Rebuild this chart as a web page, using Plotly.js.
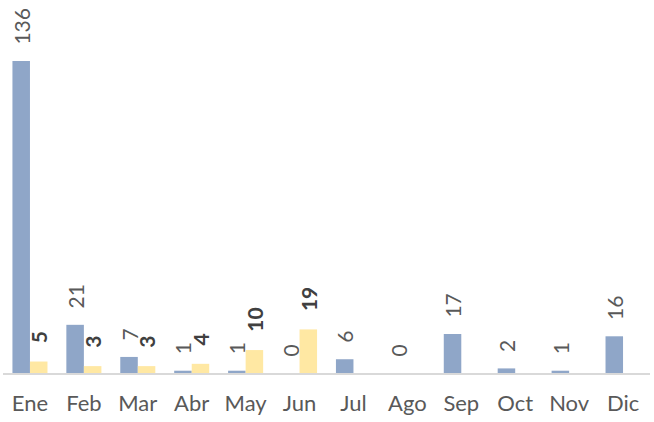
<!DOCTYPE html>
<html><head><meta charset="utf-8">
<script src="https://cdn.plot.ly/plotly-3.0.1.min.js"></script>
<style>html,body{margin:0;padding:0;background:#fff}#chart{width:654px;height:422px}</style>
</head><body><div id="chart"></div>
<script>
const months = ["Ene","Feb","Mar","Abr","May","Jun","Jul","Ago","Sep","Oct","Nov","Dic"];
const seriesA = [136,21,7,1,1,0,6,0,17,2,1,16];
const seriesB = [5,3,3,4,10,19,null,null,null,null,null,null];

const PAD_A = "\u00a0\u00a0\u2009";
const PAD_B = "\u00a0\u00a0\u00a0";
const traces = [
  {type:"bar", x:months, y:seriesA, marker:{color:"#8FA6C8"},
   text:seriesA.map(v=>v===null?"":PAD_A+v), textposition:"outside", textangle:-90,
   constraintext:"none",
   textfont:{family:"Lato", size:21, color:"#595959"}, cliponaxis:false, hoverinfo:"none"},
  {type:"bar", x:months, y:seriesB, marker:{color:"#FFE8A3"},
   text:seriesB.map(v=>v===null?"":"<b>"+PAD_B+v+"</b>"), textposition:"outside", textangle:-90,
   constraintext:"none",
   textfont:{family:"Lato", size:21, color:"#404040"}, cliponaxis:false, hoverinfo:"none"}
];
const layout = {
  width:654, height:422, margin:{l:3,r:4,t:5,b:49},
  paper_bgcolor:"#fff", plot_bgcolor:"#fff",
  barmode:"group", bargap:0.35, bargroupgap:0, showlegend:false,
  xaxis:{showline:true, linecolor:"#D9D9D9", linewidth:2, showgrid:false, zeroline:false,
         ticks:"outside", ticklen:10, tickcolor:"rgba(0,0,0,0)",
         tickfont:{family:"Lato", size:22, color:"#595959"}},
  yaxis:{visible:false, range:[0,160.4], showgrid:false, zeroline:false},
  uniformtext:{mode:false}
};
Plotly.newPlot("chart", traces, layout, {displayModeBar:false, staticPlot:true});
</script></body></html>
